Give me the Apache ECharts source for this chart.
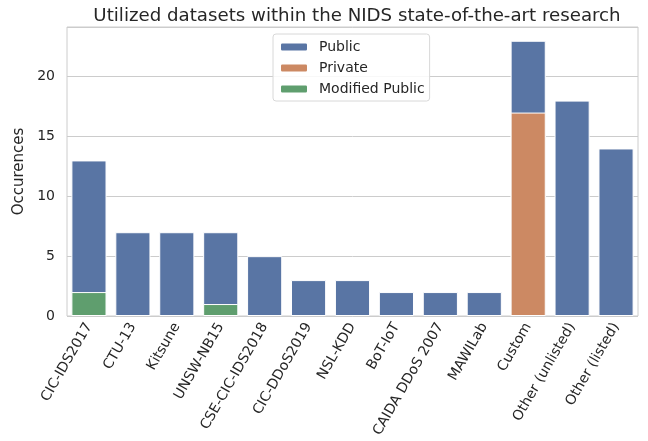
<!DOCTYPE html>
<html>
<head>
<meta charset="utf-8">
<script src="https://cdn.jsdelivr.net/npm/echarts@6/dist/echarts.min.js"></script>
<style>
html, body { margin: 0; padding: 0; background: #fff; }
#chart { width: 648px; height: 441px; }
</style>
</head>
<body>
<div id="chart"></div>
<script>
// datasets used in the NIDS papers
const categories = ['CIC-IDS2017', 'CTU-13', 'Kitsune', 'UNSW-NB15', 'CSE-CIC-IDS2018', 'CIC-DDoS2019', 'NSL-KDD', 'BoT-IoT', 'CAIDA DDoS 2007', 'MAWILab', 'Custom', 'Other (unlisted)', 'Other (listed)']
const publicCounts = [13, 7, 7, 7, 5, 3, 3, 2, 2, 2, 23, 18, 14]
const privateCounts = ['-', '-', '-', '-', '-', '-', '-', '-', '-', '-', 17, '-', '-']
const modifiedCounts = [2, '-', '-', 1, '-', '-', '-', '-', '-', '-', '-', '-', '-']
const yTicks = [0, 5, 10, 15, 20]

const textColor = '#262626'
const font = 'DejaVu Sans'

let chart = echarts.init(document.getElementById('chart'))

function barSeries(name, data, color) {
    return {
        name: name,
        type: 'bar',
        data: data,
        barWidth: '80%',
        barGap: '-100%',
        itemStyle: { color: color, borderColor: '#fff', borderWidth: 1 }
    }
}

let option = {
    animation: false,
    textStyle: { fontFamily: font, color: textColor },
    title: {
        text: 'Utilized datasets within the NIDS state-of-the-art research',
        left: 352, top: 2, textAlign: 'center',
        textStyle: { fontFamily: font, fontSize: 18.2, fontWeight: 'normal', color: textColor }
    },
    legend: {
        orient: 'vertical',
        left: 273, top: 34,
        itemWidth: 28, itemHeight: 9, itemGap: 7,
        padding: [6, 5, 5, 6],
        borderColor: '#d8d8d8', borderWidth: 1, borderRadius: 3,
        backgroundColor: 'rgba(255,255,255,0.85)',
        textStyle: { fontFamily: font, fontSize: 14, color: textColor, padding: [0, 0, 0, 6] },
        data: ['Public', 'Private', 'Modified Public']
    },
    grid: {
        left: 67, right: 10, top: 27, bottom: 125,
        show: true, borderColor: '#cccccc', borderWidth: 1
    },
    xAxis: {
        type: 'category',
        data: categories,
        axisLine: { show: false },
        axisTick: { show: false },
        axisLabel: { rotate: 60, fontSize: 14, color: textColor, fontFamily: font, margin: 8, interval: 0 }
    },
    yAxis: {
        type: 'value',
        min: 0, max: 24.15, interval: 5,
        name: 'Occurences',
        nameLocation: 'middle', nameGap: 35,
        nameTextStyle: { fontSize: 15, color: textColor, fontFamily: font },
        axisLine: { show: false },
        axisTick: { show: false },
        splitLine: { lineStyle: { color: '#cccccc', width: 1 } },
        axisLabel: {
            fontSize: 14, color: textColor, fontFamily: font, margin: 12,
            formatter: v => (yTicks.indexOf(v) >= 0 ? String(v) : '')
        }
    },
    series: [
        barSeries('Public', publicCounts, '#5975a4'),
        barSeries('Private', privateCounts, '#cc8963'),
        barSeries('Modified Public', modifiedCounts, '#5f9e6e')
    ]
}
chart.setOption(option)
</script>
</body>
</html>
